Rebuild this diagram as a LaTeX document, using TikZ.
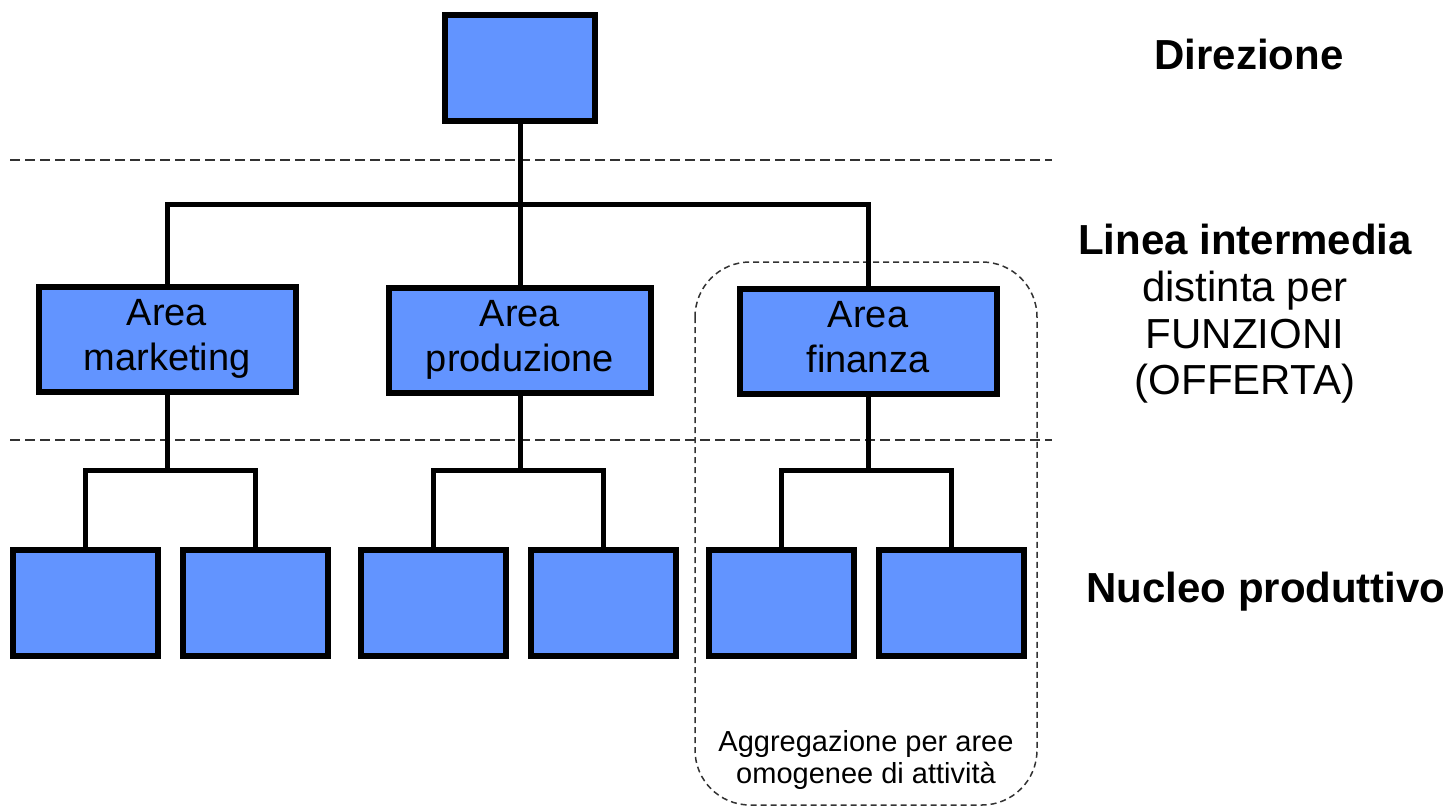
\documentclass[tikz,border=0pt]{standalone}
\usepackage{fontspec}
\setmainfont{Liberation Sans}
\definecolor{boxblue}{RGB}{98,148,255}
\definecolor{dashgray}{RGB}{50,50,50}
\tikzset{
  unitbox/.style={draw=black, fill=boxblue, line width=6pt, inner sep=0pt, align=center,
    font=\fontsize{38}{45}\selectfont},
  topbox/.style={unitbox, minimum width=150pt, minimum height=106pt},
  midbox/.style={unitbox, minimum width=257pt, minimum height=105pt},
  lowbox/.style={unitbox, minimum width=145pt, minimum height=106pt},
  link/.style={line width=5pt},
  levelsep/.style={draw=dashgray, line width=1.8pt, dash pattern=on 10pt off 5pt},
  groupframe/.style={draw=dashgray, line width=1.5pt, dash pattern=on 6pt off 4pt, rounded corners=55pt},
  sidebold/.style={font=\fontsize{42}{52}\selectfont\bfseries, inner sep=0pt, align=center},
  sidenorm/.style={font=\fontsize{42}{52}\selectfont, inner sep=0pt, align=center},
  note/.style={font=\fontsize{29}{32}\selectfont, inner sep=0pt, align=center}
}
\begin{document}
\begin{tikzpicture}[x=1pt,y=-1pt]
\useasboundingbox (0,0) rectangle (1452,807);
% level separators
\coordinate (s1a) at (10,160);
\coordinate (s1b) at (1052,160);
\coordinate (s2a) at (10,440);
\coordinate (s2b) at (1052,440);
\draw[levelsep] (s1a) -- (s1b);
\draw[levelsep] (s2a) -- (s2b);
% group frame
\coordinate (ga) at (695,262);
\coordinate (gb) at (1037,805);
\draw[groupframe] (ga) rectangle (gb);
% boxes
\node[topbox] (top) at (520,68) {};
\node[midbox] (mkt) at (167,339) {Area\\marketing};
\node[midbox, minimum width=262pt] (prod) at (520,340) {Area\\produzione};
\node[midbox] (fin) at (868,341) {Area\\finanza\vphantom{g}};
\node[lowbox] (b1) at (85,603) {};
\node[lowbox] (b2) at (255,603) {};
\node[lowbox] (b3) at (433,603) {};
\node[lowbox] (b4) at (603,603) {};
\node[lowbox] (b5) at (781,603) {};
\node[lowbox] (b6) at (951,603) {};
% connectors
\coordinate (bus) at (0,204);
\coordinate (sub) at (0,470);
\draw[link] (top.south) -- (top.south |- bus);
\draw[link] (mkt.north) -- (mkt.north |- bus) -- (fin.north |- bus) -- (fin.north);
\draw[link] (prod.north) -- (prod.north |- bus);
\draw[link] (mkt.south) -- (mkt.south |- sub);
\draw[link] (b1.north) -- (b1.north |- sub) -- (b2.north |- sub) -- (b2.north);
\draw[link] (prod.south) -- (prod.south |- sub);
\draw[link] (b3.north) -- (b3.north |- sub) -- (b4.north |- sub) -- (b4.north);
\draw[link] (fin.south) -- (fin.south |- sub);
\draw[link] (b5.north) -- (b5.north |- sub) -- (b6.north |- sub) -- (b6.north);
% labels
\node[sidebold, anchor=base] (dir) at (1249,69) {Direzione};
\node[sidebold, anchor=base] (lin) at (1245,254) {Linea intermedia};
\node[sidenorm, anchor=base] (dis) at (1245,301) {distinta per};
\node[sidenorm, anchor=base] (fun) at (1245,348) {FUNZIONI};
\node[sidenorm, anchor=base] (off) at (1245,394) {(OFFERTA)};
\node[sidebold, anchor=base] (nuc) at (1266,602) {Nucleo produttivo};
\node[note] (agg) at (866,760) {Aggregazione per aree\\omogenee di attività};
\end{tikzpicture}
\end{document}
